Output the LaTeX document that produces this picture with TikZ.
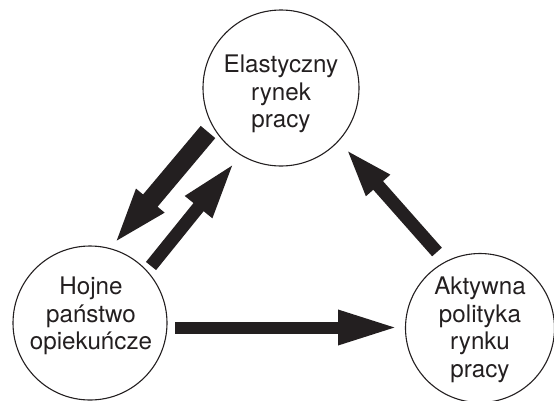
\documentclass[tikz,border=0pt]{standalone}
\usepackage{fontspec}
\setmainfont{TeX Gyre Heros}
\usetikzlibrary{arrows.meta}
\definecolor{ink}{HTML}{231F20}
\begin{document}
\begin{tikzpicture}[x=1pt,y=-1pt,
  circ/.style={draw=ink, circle, line width=1.1pt, inner sep=0pt},
  lbl/.style={align=center, text=ink, font=\fontsize{24.2}{27.5}\selectfont},
  thickarrow/.style={draw=ink, line width=19pt, -{Triangle[length=58pt,width=32pt]}},
  thinarrow/.style={draw=ink, line width=13pt, -{Triangle[length=58pt,width=31pt]}}
]
\useasboundingbox (0,0) rectangle (554,400);
\node[circ, minimum size=156pt] (top) at (281,88) {};
\node[circ, minimum size=154pt] (left) at (90,323) {};
\node[circ, minimum size=149pt] (right) at (480,328) {};
\node[lbl] (toptext) at (281,94) {Elastyczny\\rynek\\pracy};
\node[lbl] (lefttext) at (91,316) {Hojne\\państwo\\opiekuńcze};
\node[lbl] (righttext) at (480,330) {Aktywna\\polityka\\rynku\\pracy};
\coordinate (a1s) at (208,132);
\coordinate (a1e) at (113,245);
\coordinate (a2s) at (151,266);
\coordinate (a2e) at (235,162);
\coordinate (a3s) at (437,252);
\coordinate (a3e) at (345,148);
\coordinate (a4s) at (175,327.5);
\coordinate (a4e) at (398,327.5);
\draw[thickarrow] (a1s) -- (a1e);
\draw[thinarrow] (a2s) -- (a2e);
\draw[thinarrow, -{Triangle[length=50pt,width=28pt]}] (a3s) -- (a3e);
\draw[thinarrow, line width=12pt, -{Triangle[length=60pt,width=32pt]}] (a4s) -- (a4e);
\end{tikzpicture}
\end{document}
